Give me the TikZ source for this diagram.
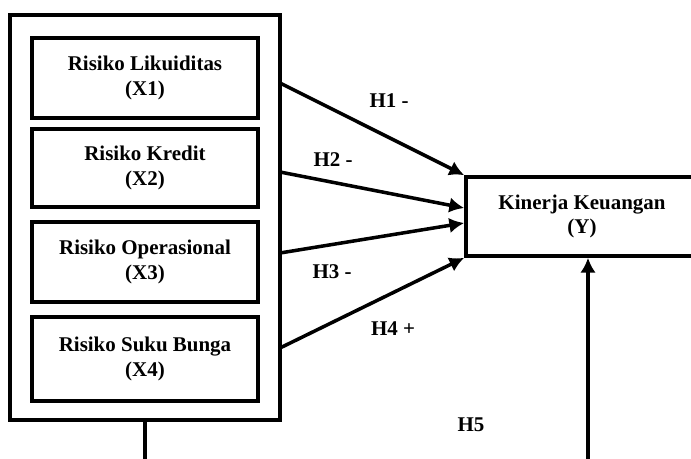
\documentclass[tikz,border=0pt]{standalone}
\usepackage{fontspec}
\setmainfont{Liberation Serif}
\usepackage{tikz}
\usetikzlibrary{arrows.meta}
\usetikzlibrary{calc}
\tikzset{varbox/.style = {draw, line width = 3pt, align = center, inner sep = 0,
                          font = \fontsize{14.9}{17.5}\selectfont\bfseries}}
\tikzset{hyp/.style = {inner sep = 0, font = \fontsize{14.9}{17.5}\selectfont\bfseries}}
\tikzset{link/.style = {line width = 2.5pt, -{Latex[length = 10.5pt, width = 11pt]}}}

\begin{document}
\begin{tikzpicture}[x = 0.025cm, y = -0.025cm]
        \useasboundingbox (0, 0) rectangle (691, 459);

        % independent variables
        \node [varbox, minimum width = 6.75cm, minimum height = 10.125cm] (outer) at (145, 217.5) {};
        \node [varbox, minimum width = 5.65cm, minimum height = 2cm] (x1) at (145, 78) {Risiko Likuiditas\\(X1)};
        \node [varbox, minimum width = 5.65cm, minimum height = 1.95cm] (x2) at (145, 168) {Risiko Kredit\\(X2)};
        \node [varbox, minimum width = 5.65cm, minimum height = 2cm] (x3) at (145, 262) {Risiko Operasional\\(X3)};
        \node [varbox, minimum width = 5.65cm, minimum height = 2.1cm] (x4) at (145, 359) {Risiko Suku Bunga\\(X4)};

        % dependent variable
        \node [varbox, line width = 2.6pt, minimum width = 5.8cm, minimum height = 1.975cm] (kin) at (582, 216.5) {Kinerja Keuangan\\(Y)};

        \coordinate (s1) at (280, 83);
        \coordinate (s2) at (280, 172);
        \coordinate (s3) at (280, 253);
        \coordinate (s4) at (280, 348);
        \coordinate (low) at (145, 462);
        \coordinate (up) at (588, 462);

        \draw [link] (s1) -- (kin.north west);
        \draw [link] (s2) -- ($(kin.west) + (0, -8.5)$);
        \draw [link] (s3) -- ($(kin.west) + (0, 6.5)$);
        \draw [link] (s4) -- (kin.south west);

        \draw [line width = 2.6pt] (outer.south) -- (low);
        \draw [link] (up) -- (kin.south -| up);

        \node [hyp] (h1) at (389, 101) {H1 -};
        \node [hyp] (h2) at (333, 160) {H2 -};
        \node [hyp] (h3) at (332, 272) {H3 -};
        \node [hyp] (h4) at (393, 329) {H4 +};
        \node [hyp] (h5) at (471, 425) {H5};
      \end{tikzpicture}
\end{document}
